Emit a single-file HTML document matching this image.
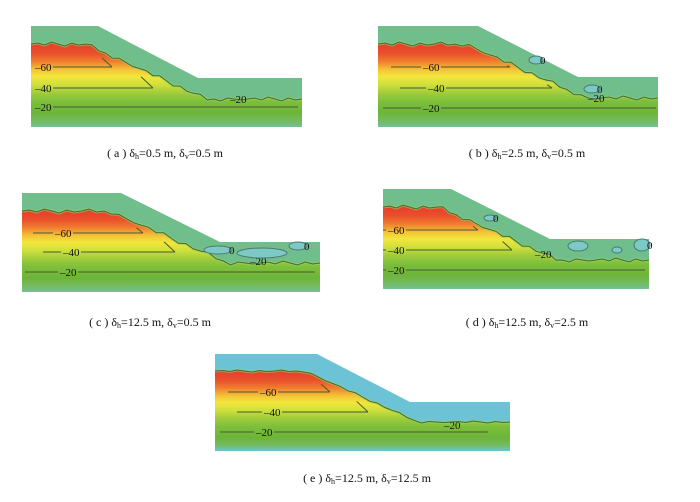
<!DOCTYPE html>
<html><head><meta charset="utf-8">
<style>
html,body{margin:0;padding:0;background:#fff;}
body{width:700px;height:502px;overflow:hidden;}
svg{display:block;}
.cap{font-family:"Liberation Serif",serif;font-size:12px;fill:#111;}
.lbl{font-family:"Liberation Serif",serif;font-size:11px;fill:#111;}
</style></head>
<body>
<svg id="fig" width="700" height="502" viewBox="0 0 700 502" xmlns="http://www.w3.org/2000/svg">
<defs></defs>
</svg>
<script>
// contour levels drawn in each panel
const levels = [-60, -40, -20];
const panelIds = ['a','b','c','d','e'];
const dh = ['0.5','2.5','12.5','12.5','12.5'];
const dv = ['0.5','0.5','0.5','2.5','12.5'];
// zero-contour patch counts per panel
const zeroPatches = [0, 2, 3, 4, 0];

const NS='http://www.w3.org/2000/svg';
const svg=document.getElementById('fig');
const defs=svg.querySelector('defs');
function mk(t,a,p){const e=document.createElementNS(NS,t);for(const k in a)e.setAttribute(k,a[k]);(p||svg).appendChild(e);return e;}

const geo={
 a:{L:31,R:302,T:26,B:127,s1:98,s2:198,low:78,ly:[67,88,107],lx0:[33,33,33],lx1:[112,153,298],tx:[35,35,35],cx:165,cy:157,blue:false,
    patches:[]},
 b:{L:378,R:658,T:26,B:127,s1:478,s2:578,low:77,ly:[67,88,108],lx0:[391,400,383],lx1:[510,552,656],tx:[423,428,423],cx:527,cy:157,blue:false,
    patches:[[536,60,7,4],[592,89,8,4]]},
 c:{L:22,R:320,T:193,B:292,s1:121,s2:220,low:242,ly:[233,252,272],lx0:[33,43,25],lx1:[143,175,315],tx:[55,63,60],cx:150,cy:326,blue:false,
    patches:[[218,250,14,4],[262,253,25,5],[298,246,9,4]]},
 d:{L:383,R:649,T:189,B:289,s1:451,s2:550,low:239,ly:[230,250,270],lx0:[383,383,383],lx1:[478,512,645],tx:[388,388,388],cx:527,cy:326,blue:false,
    patches:[[490,218,6,3],[578,246,10,5],[617,250,5,3],[642,245,8,6]]},
 e:{L:215,R:510,T:354,B:451,s1:317,s2:410,low:402,ly:[392,412,432],lx0:[228,237,220],lx1:[330,368,488],tx:[260,264,256],cx:367,cy:482,blue:true,
    patches:[]}
};
const jit=[0,-1,1,-2,0,2,-1,1,0,-2,1,0,2,-1,0,1];

panelIds.forEach((id,i)=>{
 const g=geo[id];
 const grp=mk('g',{});
 
 
 const outer=g.blue?'#6cc3d6':'#70be8b';
 const gr=mk('linearGradient',{id:'gr'+id,gradientUnits:'userSpaceOnUse',x1:0,y1:g.T,x2:0,y2:g.B},defs);
 const st=[[0.15,'#e43a2b'],[0.27,'#e9502b'],[0.35,'#f07d2e'],[0.43,'#f4c236'],[0.5,'#f3e63c'],[0.58,'#cfe03c'],[0.66,'#a2cd3c'],[0.75,'#7cbf3b'],[0.86,'#6cb43a'],[0.94,'#74bb60'],[1,g.blue?'#6cc3d6':'#74c097']];
 st.forEach(s=>mk('stop',{offset:s[0],'stop-color':s[1]},gr));
 const surf=`${g.L},${g.T} ${g.s1},${g.T} ${g.s2},${g.low} ${g.R},${g.low} ${g.R},${g.B} ${g.L},${g.B}`;
 const s=mk('polygon',{points:surf,fill:outer},grp);
 
 
 const off=g.blue?17:18;
 const pts=[];
 const n=40;
 const bY=x=>{
   if(x<=g.s1-12) return g.T+off;
   if(x>=g.s2+8) return g.low+off+3;
   const t=(x-(g.s1-12))/((g.s2+8)-(g.s1-12)); return g.T+off+t*(g.low+3-g.T);
 };
 for(let k=0;k<=n;k++){
   const x=g.L+(g.R-g.L)*k/n;
   let y=bY(x)+(g.blue?0.5:1)*jit[k%jit.length];
   pts.push(x.toFixed(1)+','+y.toFixed(1));
 }
 const inner=mk('polygon',{points:pts.join(' ')+` ${g.R},${g.B} ${g.L},${g.B}`,fill:'url(#gr'+id+')'},grp);
 
 
 const halo=mk('polyline',{points:pts.join(' '),fill:'none',stroke:'#9bd066','stroke-width':3,opacity:0.6},grp);
 
 
 const bd=mk('polyline',{points:pts.join(' '),fill:'none',stroke:'#3f6a3a','stroke-width':1},grp);
 
 
 levels.forEach((lv,j)=>{
   const y=g.ly[j];
   const tw=18;
   const l1=mk('line',{x1:g.lx0[j],y1:y,x2:g.tx[j]-2,y2:y,stroke:'#4a5a30','stroke-width':1},grp);
   
   
   const l2=mk('line',{x1:g.tx[j]+tw,y1:y,x2:g.lx1[j],y2:y,stroke:'#4a5a30','stroke-width':1},grp);
   
   
   if(lv!==-20){
     // wedge back up toward slope boundary
     const xe=g.lx1[j];
     const l3=mk('line',{x1:xe,y1:y,x2:xe-(y-bY(xe))*0.9,y2:bY(xe)+2,stroke:'#4a5a30','stroke-width':1},grp);
     
     
   }
   const t=mk('text',{x:g.tx[j],y:y+4,class:'lbl'},grp);
   t.textContent='\u2013'+Math.abs(lv);
   
   
 });
 const toeX={a:230,b:588,c:250,d:535,e:444}[id], toeY={a:103,b:102,c:265,d:258,e:429}[id];
 const tt=mk('text',{x:toeX,y:toeY,class:'lbl'},grp);
 tt.textContent='\u201320';
 
 
 for(let p=0;p<zeroPatches[i];p++){
   const q=g.patches[p];
   const e=mk('ellipse',{cx:q[0],cy:q[1],rx:q[2],ry:q[3],fill:'#7cc9c6',stroke:'#4d7a70','stroke-width':1},grp);
   
   
   if(p===0||p===zeroPatches[i]-1){
     const t=mk('text',{x:q[0]+q[2]-3,y:q[1]+4,class:'lbl'},grp);
     t.textContent='0';
     
     
   }
 }
 const c=mk('text',{x:g.cx,y:g.cy,class:'cap','text-anchor':'middle'},grp);
 
 
 c.innerHTML=`( ${id} ) δ<tspan font-size="8" dy="2">h</tspan><tspan dy="-2">=${dh[i]} m,  δ</tspan><tspan font-size="8" dy="2">v</tspan><tspan dy="-2">=${dv[i]} m</tspan>`;
});
</script>
</body></html>
